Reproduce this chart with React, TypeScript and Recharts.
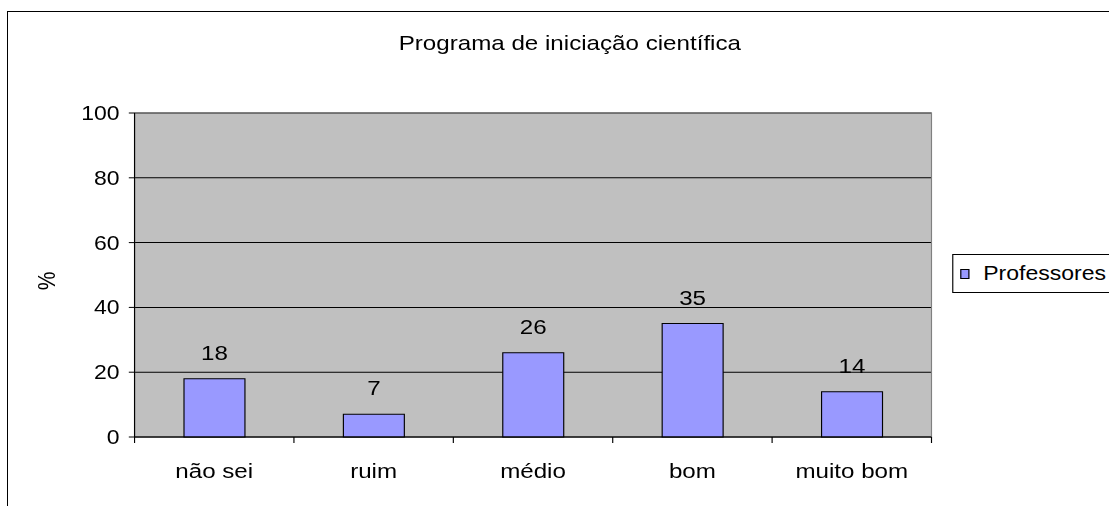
import { Bar, BarChart, CartesianGrid, LabelList, Legend, ReferenceArea, XAxis, YAxis } from 'recharts'

const categories = ['não sei', 'ruim', 'médio', 'bom', 'muito bom']
const professores = [18, 7, 26, 35, 14]
const yTicks = [0, 20, 40, 60, 80, 100]

const data = categories.map((c, i) => ({ name: c, value: professores[i] }))

// the source picture is stretched sideways, so the chart is drawn narrower and scaled
const SX = 1.15
const FONT = '"Liberation Sans", Arial, sans-serif'
const X_TICK_SIZE = 6
const X_TICK_MARGIN = 20

function EdgeTick(props: any) {
  const { x, y, payload, index, visibleTicksCount, width } = props
  const band = (width || 693) / visibleTicksCount
  const axisY = y - X_TICK_SIZE - X_TICK_MARGIN
  const left = x - band / 2
  return (
    <g>
      <line x1={left} x2={left} y1={axisY} y2={axisY + X_TICK_SIZE} stroke="#000" />
      {index === visibleTicksCount - 1 && (
        <line x1={x + band / 2} x2={x + band / 2} y1={axisY} y2={axisY + X_TICK_SIZE} stroke="#000" />
      )}
      <text x={x} y={y} dy="0.71em" textAnchor="middle" fill="#000" fontSize={21}>
        {payload.value}
      </text>
    </g>
  )
}

function YLabel(props: any) {
  const vb = props.viewBox || { y: 113, height: 324 }
  const cy = vb.y + vb.height / 2 + 6
  return (
    <text x={41} y={cy} transform={`rotate(-90 41 ${cy})`} textAnchor="middle" dominantBaseline="central" fill="#000" fontSize={21}>
      %
    </text>
  )
}

function LegendBox() {
  return (
    <div
      style={{
        border: '1px solid #000',
        height: 37,
        width: 300,
        display: 'flex',
        alignItems: 'center',
        paddingLeft: 6,
        background: '#fff',
        fontFamily: FONT,
      }}
    >
      <div style={{ width: 8, height: 10, background: '#9999FF', border: '1px solid #000', boxSizing: 'border-box' }} />
      <span style={{ marginLeft: 12, fontSize: 20, color: '#000', whiteSpace: 'nowrap' }}>Professores</span>
    </div>
  )
}

export default function App() {
  return (
    <div style={{ position: 'fixed', left: 0, top: 0, width: 1109, height: 506, overflow: 'hidden', background: '#fff' }}>
      <div
        style={{
          position: 'absolute',
          left: 7,
          top: 11,
          width: 1200,
          height: 600,
          border: '1px solid #000',
          boxSizing: 'border-box',
        }}
      />
      <div
        style={{
          position: 'absolute',
          left: 0,
          top: 0,
          width: 964,
          height: 506,
          transform: `scaleX(${SX})`,
          transformOrigin: '0 0',
          fontFamily: FONT,
        }}
      >
        <div
          style={{
            position: 'absolute',
            left: 0,
            top: 32,
            width: 991,
            textAlign: 'center',
            fontSize: 21,
            lineHeight: '21px',
            color: '#000',
            whiteSpace: 'nowrap',
          }}
        >
          Programa de iniciação científica
        </div>
        <BarChart width={964} height={506} data={data} margin={{ top: 113, right: 154, bottom: 19, left: 0 }}>
          <CartesianGrid vertical={false} stroke="#000" fill="#C0C0C0" fillOpacity={1} />
          <ReferenceArea y1={0} y2={100} fill="none" stroke="#808080" ifOverflow="visible" />
          <XAxis
            dataKey="name"
            height={50}
            axisLine={{ stroke: '#000' }}
            tickLine={false}
            tickSize={X_TICK_SIZE}
            tickMargin={X_TICK_MARGIN}
            interval={0}
            tick={<EdgeTick />}
          />
          <YAxis
            domain={[0, 100]}
            ticks={yTicks}
            width={117}
            axisLine={{ stroke: '#000' }}
            tickLine={{ stroke: '#000' }}
            tickSize={5}
            tickMargin={8}
            tick={{ fill: '#000', fontSize: 20 }}
            label={<YLabel />}
          />
          <Legend
            layout="horizontal"
            verticalAlign="middle"
            align="center"
            content={<LegendBox />}
            wrapperStyle={{ left: 828, top: 254, width: 300 }}
          />
          <Bar dataKey="value" name="Professores" fill="#9999FF" stroke="#000" barSize={53} isAnimationActive={false}>
            <LabelList dataKey="value" position="top" offset={19} fill="#000" fontSize={21} />
          </Bar>
        </BarChart>
      </div>
    </div>
  )
}
